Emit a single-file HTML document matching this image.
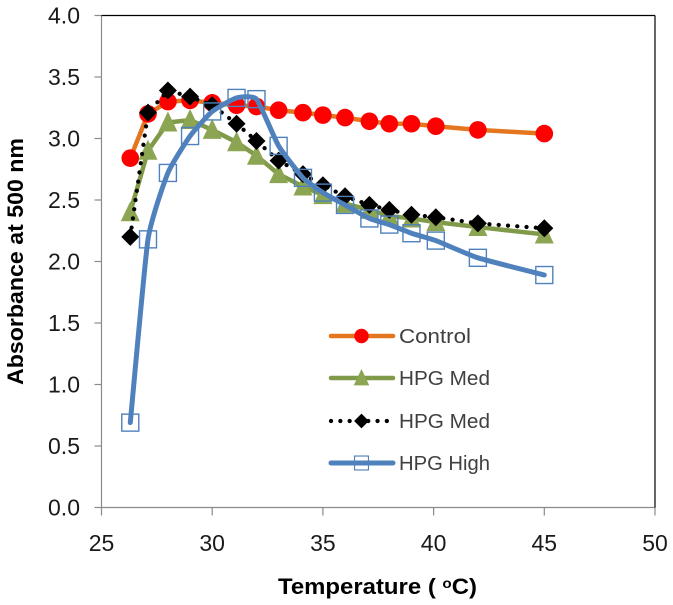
<!DOCTYPE html>
<html>
<head>
<meta charset="utf-8">
<style>
html,body{margin:0;padding:0;background:#fff;width:673px;height:605px;overflow:hidden}
svg{display:block;font-family:"Liberation Sans",sans-serif;filter:blur(0.35px)}
</style>
</head>
<body>
<svg id="chart" width="673" height="605" viewBox="0 0 673 605" xmlns="http://www.w3.org/2000/svg"></svg>
<script>
const temperatures = [26.3, 27.1, 28, 29, 30, 31.1, 32, 33, 34.1, 35, 36, 37.1, 38, 39, 40.1, 42, 45];
const controlValues = [2.84, 3.2, 3.3, 3.31, 3.29, 3.27, 3.26, 3.23, 3.21, 3.19, 3.17, 3.14, 3.12, 3.12, 3.1, 3.07, 3.04];
const hpgMedTriangleValues = [2.4, 2.9, 3.13, 3.15, 3.07, 2.97, 2.86, 2.71, 2.61, 2.54, 2.47, 2.42, 2.37, 2.35, 2.32, 2.28, 2.22];
const hpgMedDiamondValues = [2.2, 3.21, 3.39, 3.34, 3.27, 3.12, 2.98, 2.82, 2.71, 2.62, 2.53, 2.46, 2.42, 2.38, 2.36, 2.31, 2.27];
const hpgHighValues = [0.69, 2.18, 2.72, 3.02, 3.22, 3.33, 3.32, 2.94, 2.68, 2.56, 2.46, 2.35, 2.3, 2.23, 2.17, 2.03, 1.89];
const xTicks = [25, 30, 35, 40, 45, 50];
const yTicks = [0, 0.5, 1, 1.5, 2, 2.5, 3, 3.5, 4];
const legendLabels = ["Control", "HPG Med", "HPG Med", "HPG High"];

const svg = document.getElementById('chart');
const NS = 'http://www.w3.org/2000/svg';
const X0 = 101.5, X1 = 655, Y0 = 507.5, Y1 = 15.5;
function xScale(v) { return X0 + (v - 25) / 25 * (X1 - X0); }
function yScale(v) { return Y0 - v / 4 * (Y0 - Y1); }
function mk(tag, attrs, parent) {
  const el = document.createElementNS(NS, tag);
  for (const k in attrs) el.setAttribute(k, attrs[k]);
  (parent || svg).appendChild(el);
  return el;
}
function group(name) {
  const g = mk('g', {});
  
  
  return g;
}
function straightPath(pts) {
  return pts.map((p, i) => (i ? 'L' : 'M') + p[0].toFixed(2) + ' ' + p[1].toFixed(2)).join(' ');
}
function smoothPath(pts) {
  let d = 'M' + pts[0][0].toFixed(2) + ' ' + pts[0][1].toFixed(2);
  for (let i = 0; i < pts.length - 1; i++) {
    const p0 = pts[Math.max(i - 1, 0)], p1 = pts[i], p2 = pts[i + 1], p3 = pts[Math.min(i + 2, pts.length - 1)];
    const t = 0.08;
    d += ' C' + (p1[0] + (p2[0] - p0[0]) * t).toFixed(2) + ' ' + (p1[1] + (p2[1] - p0[1]) * t).toFixed(2) +
         ' ' + (p2[0] - (p3[0] - p1[0]) * t).toFixed(2) + ' ' + (p2[1] - (p3[1] - p1[1]) * t).toFixed(2) +
         ' ' + p2[0].toFixed(2) + ' ' + p2[1].toFixed(2);
  }
  return d;
}
function marker(kind, x, y, parent) {
  if (kind === 'circle') return mk('circle', { cx: x, cy: y, r: 8.8, fill: '#ff0000' }, parent);
  if (kind === 'triangle') return mk('polygon', { points: (x) + ',' + (y - 11) + ' ' + (x + 9.5) + ',' + (y + 9) + ' ' + (x - 9.5) + ',' + (y + 9), fill: '#8ca552' }, parent);
  if (kind === 'diamond') return mk('polygon', { points: x + ',' + (y - 9) + ' ' + (x + 9) + ',' + y + ' ' + x + ',' + (y + 9) + ' ' + (x - 9) + ',' + y, fill: '#000' }, parent);
  return mk('rect', { x: x - 8.5, y: y - 8.5, width: 17, height: 17, fill: 'none', stroke: '#4f81bd', 'stroke-width': 1.4 }, parent);
}

/* axes */
const axes = group('axes');
const xAxis = mk('line', { x1: X0, y1: Y0, x2: X1, y2: Y0, stroke: '#8a8a8a', 'stroke-width': 1.2 }, axes);


const yAxis = mk('line', { x1: X0, y1: Y0, x2: X0, y2: Y1, stroke: '#8a8a8a', 'stroke-width': 1.2 }, axes);


const topBorder = mk('line', { x1: X0, y1: Y1, x2: X1, y2: Y1, stroke: '#000', 'stroke-width': 1.2 }, axes);


const rightBorder = mk('line', { x1: X1, y1: Y1, x2: X1, y2: Y0, stroke: '#000', 'stroke-width': 1.2 }, axes);



xTicks.forEach(v => {
  const tick = mk('line', { x1: xScale(v), y1: Y0, x2: xScale(v), y2: Y0 + 8, stroke: '#8a8a8a', 'stroke-width': 1.2 }, axes);
  
  
  const label = mk('text', { x: xScale(v), y: 551, 'text-anchor': 'middle', 'font-size': 23, fill: '#1a1a1a' }, axes);
  
  
  label.textContent = v;
});
yTicks.forEach(v => {
  const tick = mk('line', { x1: X0 - 7, y1: yScale(v), x2: X0, y2: yScale(v), stroke: '#8a8a8a', 'stroke-width': 1.2 }, axes);
  
  
  const label = mk('text', { x: 80, y: yScale(v) + 8, 'text-anchor': 'end', 'font-size': 23, fill: '#1a1a1a' }, axes);
  
  
  label.textContent = v.toFixed(1);
});

const xTitle = mk('text', { x: 278, y: 594, 'font-size': 22, 'font-weight': 'bold', fill: '#000', textLength: 199, lengthAdjust: 'spacingAndGlyphs' });


xTitle.innerHTML = 'Temperature ( <tspan font-size="14" dy="-6">o</tspan><tspan dy="6">C)</tspan>';
const yTitle = mk('text', { transform: 'translate(23 385) rotate(-90)', x: 0, y: 0, 'font-size': 22, 'font-weight': 'bold', fill: '#000', textLength: 247, lengthAdjust: 'spacingAndGlyphs' });


yTitle.textContent = 'Absorbance at 500 nm';

/* series */
function drawSeries(name, values, style, kind, smooth) {
  const g = group(name);
  const pts = temperatures.map((t, i) => [xScale(t), yScale(values[i])]);
  const attrs = Object.assign({ d: smooth ? smoothPath(pts) : straightPath(pts), fill: 'none', 'stroke-linejoin': 'round' }, style);
  const line = mk('path', attrs, g);
  
  
  return { g, pts, kind };
}
function drawMarkers(s, name) {
  s.pts.forEach(p => {
    const m = marker(s.kind, p[0], p[1], s.g);
    
    
  });
}
const orangeStyle = { stroke: '#e3761f', 'stroke-width': 4.5, 'stroke-linecap': 'round' };
const greenStyle = { stroke: '#7f9a48', 'stroke-width': 4.5, 'stroke-linecap': 'round' };
const dotStyle = { stroke: '#000', 'stroke-width': 4.2, 'stroke-linecap': 'round', 'stroke-dasharray': '0.1 9.2' };
const blueStyle = { stroke: '#4f81bd', 'stroke-width': 5, 'stroke-linecap': 'round' };

const sControl = drawSeries('control-series', controlValues, orangeStyle, 'circle', false);
drawMarkers(sControl, 'control');
const sTri = drawSeries('hpg-med-triangle-series', hpgMedTriangleValues, greenStyle, 'triangle', false);
drawMarkers(sTri, 'hpg-med-triangle');
const sDia = drawSeries('hpg-med-diamond-series', hpgMedDiamondValues, dotStyle, 'diamond', false);
drawMarkers(sDia, 'hpg-med-diamond');
const sHigh = drawSeries('hpg-high-series', hpgHighValues, blueStyle, 'square', true);
drawMarkers(sHigh, 'hpg-high');

/* legend */
const legend = group('legend');
const legendStyles = [orangeStyle, greenStyle, dotStyle, blueStyle];
const legendKinds = ['circle', 'triangle', 'diamond', 'square'];
const legendRowY = [336, 378, 421, 463];
legendLabels.forEach((txt, i) => {
  const y = legendRowY[i];
  const row = mk('g', {}, legend);
  
  
  const ls = Object.assign({ d: 'M331 ' + y + ' L393 ' + y, fill: 'none' }, legendStyles[i]);
  mk('path', ls, row);
  const scale = mk('g', { transform: 'translate(361.5 ' + y + ') scale(0.82) translate(-361.5 ' + (-y) + ')' }, row);
  marker(legendKinds[i], 361.5, y, scale);
  const label = mk('text', { x: 399, y: y + 7, 'font-size': 20, fill: '#404040', textLength: i === 0 ? 72 : 91, lengthAdjust: 'spacingAndGlyphs' }, row);
  label.textContent = txt;
});
</script>
</body>
</html>
